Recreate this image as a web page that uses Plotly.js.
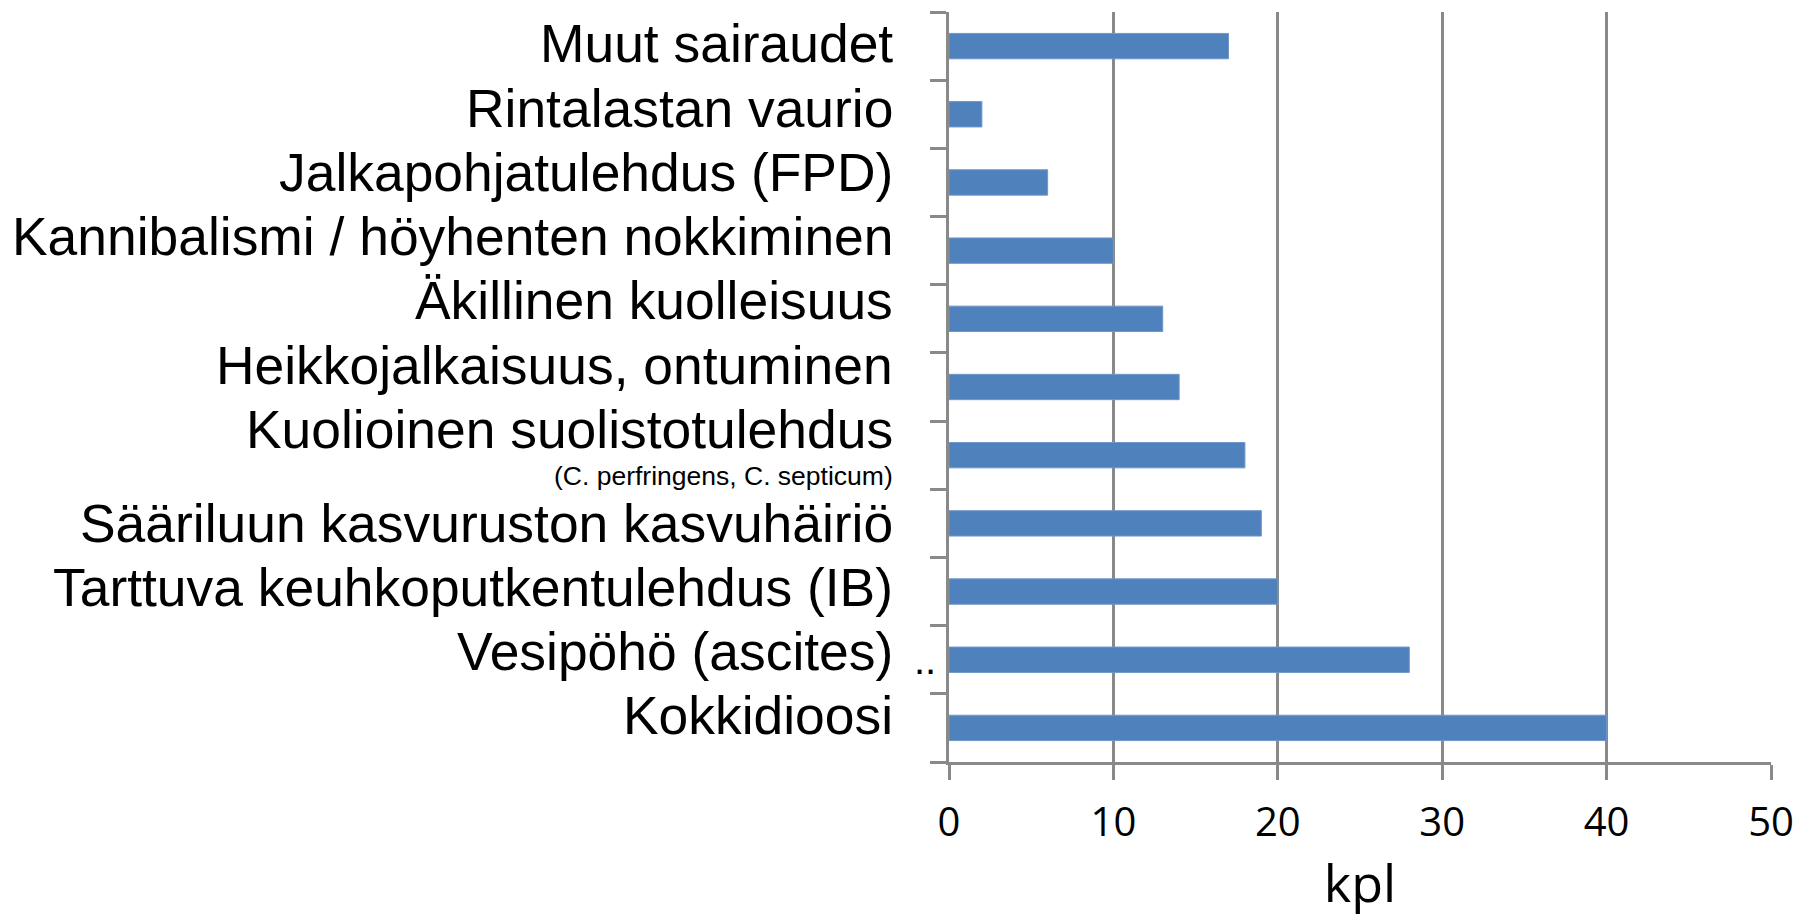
<!DOCTYPE html>
<html>
<head>
<meta charset="utf-8">
<script src="https://cdn.plot.ly/plotly-3.0.1.min.js"></script>
<style>html,body{margin:0;padding:0;background:#fff;}#chart{width:1800px;height:917px;}</style>
</head>
<body>
<div id="chart"></div>
<script>
// Categories, top to bottom as in the chart
const categories = [
  "Muut sairaudet",
  "Rintalastan vaurio",
  "Jalkapohjatulehdus (FPD)",
  "Kannibalismi / höyhenten nokkiminen",
  "Äkillinen kuolleisuus",
  "Heikkojalkaisuus, ontuminen",
  "Kuolioinen suolistotulehdus",
  "Sääriluun kasvuruston kasvuhäiriö",
  "Tarttuva keuhkoputkentulehdus (IB)",
  "Vesipöhö (ascites)",
  "Kokkidioosi"
];
const counts = [17, 2, 6, 10, 13, 14, 18, 19, 20, 28, 40];
const subLabelCategory = "Kuolioinen suolistotulehdus";
const subLabelText = "(C. perfringens, C. septicum)";
const markCategory = "Vesipöhö (ascites)";
const markText = "..";
const xTickVals = [0, 10, 20, 30, 40, 50];
const xTitle = "kpl";

// ---- layout geometry / styling ----
const W = 1800, H = 917;
const M = {l: 949, r: 29, t: 12, b: 155};
const plotH = H - M.t - M.b;
const catPitch = plotH / categories.length;
const catCentre = i => M.t + catPitch * (i + 0.5);
// The category labels sit in a text block whose line pitch is a bit tighter
// than the bar pitch (as in the original slide).
const subIdx = categories.indexOf(subLabelCategory);
const labelCentre = i => i <= subIdx ? 44 + 64.2 * i : 524 + 63.8 * (i - subIdx - 1);
const subCentre = 476;
const labelFont = {family: "Liberation Sans", size: 53.4, color: "#000"};
const labelGap = -54;

const gray = "#898989";
const trace = {
  type: "bar",
  orientation: "h",
  x: counts,
  y: categories,
  marker: {color: "#4F81BD", line: {color: "#6f97c9", width: 1}},
  hoverinfo: "x+y"
};

const annotations = categories.map((c, i) => ({
  xref: "x", yref: "y", x: 0, y: c, xanchor: "right", yanchor: "middle",
  xshift: labelGap, yshift: catCentre(i) - labelCentre(i),
  showarrow: false, text: c, font: labelFont
}));
annotations.push({
  xref: "x", yref: "y", x: 0, y: subLabelCategory, xanchor: "right", yanchor: "middle",
  xshift: labelGap, yshift: catCentre(subIdx) - subCentre,
  showarrow: false, text: subLabelText,
  font: {family: "Liberation Sans", size: 26.5, color: "#000"}
});
annotations.push({
  xref: "x", yref: "y", x: 0, y: markCategory, xanchor: "right", yanchor: "middle",
  xshift: -11, yshift: 0, showarrow: false, text: markText,
  font: {family: "Liberation Sans", size: 40, color: "#000"}
});

const layout = {
  width: W, height: H,
  margin: {l: M.l, r: M.r, t: M.t, b: M.b, pad: 0},
  paper_bgcolor: "#fff", plot_bgcolor: "#fff",
  showlegend: false,
  bargap: 0.628,
  xaxis: {
    range: [0, 50],
    tickvals: xTickVals,
    showgrid: true, gridcolor: gray, gridwidth: 3,
    zeroline: false,
    showline: true, linecolor: gray, linewidth: 3,
    ticks: "outside", ticklen: 15, tickwidth: 3, tickcolor: gray,
    tickfont: {family: "Open Sans", size: 40, color: "#000"},
    ticklabelstandoff: 8,
    title: {text: xTitle, font: {family: "Open Sans", size: 52, color: "#000"}, standoff: 34},
    automargin: false,
    fixedrange: true
  },
  yaxis: {
    type: "category",
    categoryorder: "array", categoryarray: categories,
    range: [categories.length - 0.5, -0.5],
    autorange: false,
    tickvals: categories,
    showticklabels: false,
    tickson: "boundaries",
    showgrid: false, zeroline: false,
    showline: true, linecolor: gray, linewidth: 3,
    ticks: "outside", ticklen: 16, tickwidth: 3, tickcolor: gray,
    automargin: false,
    fixedrange: true
  },
  annotations: annotations
};

Plotly.newPlot("chart", [trace], layout, {displayModeBar: false, staticPlot: true});
</script>
</body>
</html>
